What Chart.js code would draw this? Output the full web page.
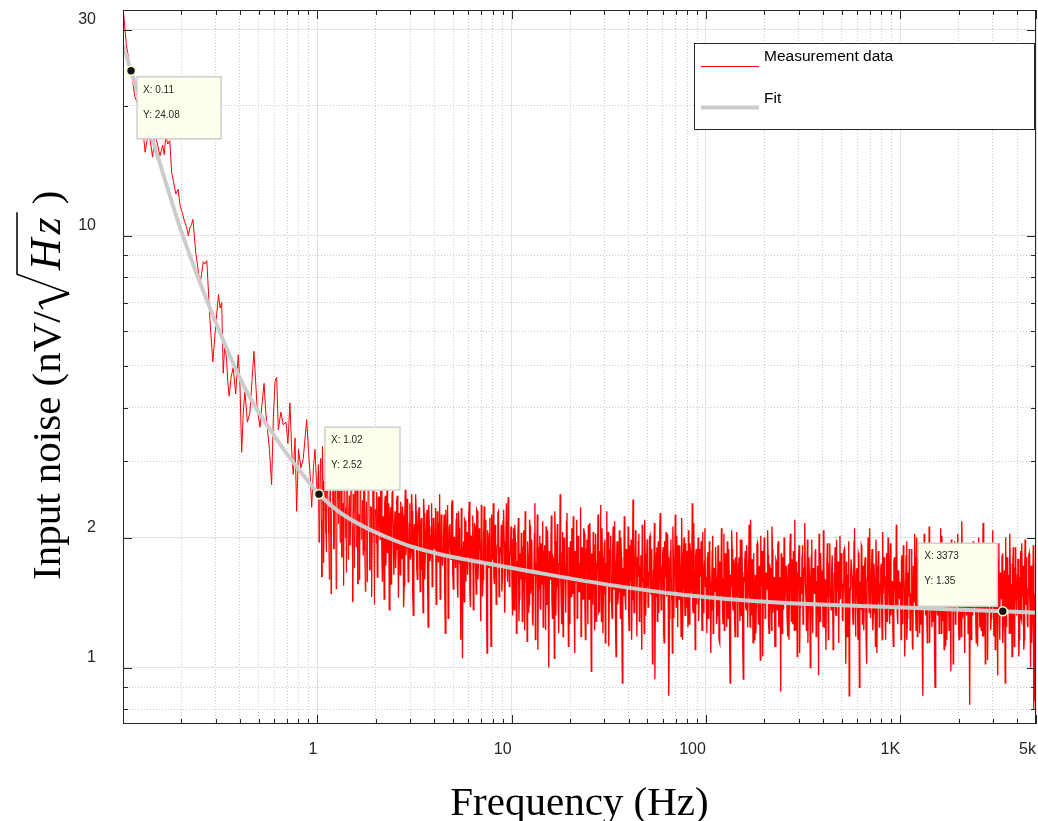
<!DOCTYPE html>
<html><head><meta charset="utf-8">
<script src="https://cdn.jsdelivr.net/npm/chart.js@4.4.1/dist/chart.umd.min.js"></script>
<style>html,body{margin:0;padding:0;background:#fff;}#wrap{width:1038px;height:821px;position:relative}</style>
</head><body><div id="wrap"><canvas id="c" width="1038" height="821"></canvas></div>
<script>
// ---------------- data ----------------
// low-frequency part of the measurement: [frequency Hz, noise nV/sqrt(Hz)]
const lowBand = [[0.100,34],[0.104,27.7],[0.108,25.0],[0.111,23.6],[0.115,21.0],[0.119,20.2],[0.123,18.6],[0.127,17.4],[0.130,15.6],[0.134,17.0],
[0.138,16.6],[0.142,15.2],[0.146,17.1],[0.150,16.4],[0.155,15.3],[0.160,16.2],[0.163,15.4],[0.166,17.0],[0.170,16.3],[0.174,16.6],
[0.178,14.0],[0.182,13.3],[0.187,12.5],[0.192,12.8],[0.197,11.7],[0.202,11.3],[0.207,10.8],[0.212,10.5],[0.217,10.0],[0.221,10.45],
[0.225,10.6],[0.229,10.9],[0.237,9.1],[0.244,8.3],[0.249,7.7],[0.254,8.2],[0.259,8.7],[0.264,8.6],[0.270,8.75],[0.280,6.4],
[0.290,5.1],[0.300,6.2],[0.310,7.3],[0.316,6.8],[0.322,7.0],[0.328,4.8],[0.334,5.6],[0.341,5.2],[0.346,4.6],[0.352,4.25],
[0.360,4.7],[0.369,4.95],[0.380,4.3],[0.392,5.3],[0.400,4.5],[0.408,3.15],[0.416,3.9],[0.424,4.35],[0.437,3.7],[0.450,3.9],
[0.461,4.6],[0.472,5.4],[0.490,4.0],[0.507,3.6],[0.520,4.1],[0.532,4.55],[0.543,3.9],[0.553,3.6],[0.567,3.2],[0.582,2.65],
[0.594,3.8],[0.606,4.6],[0.618,4.7],[0.630,3.55],[0.649,3.9],[0.668,3.65],[0.690,3.7],[0.706,3.3],[0.723,4.1],[0.738,3.2],
[0.752,2.8],[0.768,3.4],[0.783,2.3],[0.800,3.2],[0.824,2.9],[0.847,3.05],[0.865,3.4],[0.882,3.75],[0.900,3.2],[0.918,2.8],
[0.936,2.35],[0.955,2.9],[0.973,3.2],[0.990,2.7]];

// dense part: two interleaved value lists per band on an even log-frequency sampling grid
const bandEdges = [[1,10],[10,100],[100,1000],[1000,5000]];
const noise1to10 = [2.52,2.95,2.10,3.05,1.62,2.70,2.31,3.20,1.85,2.60,
2.05,2.88,1.48,2.40,3.10,2.15,2.72,1.70,2.45,2.98,
1.95,2.62,2.20,1.55,2.85,2.35,3.15,1.78,2.50,2.10,
2.78,1.42,2.30,2.66,1.90,2.92,2.08,1.60,2.55,2.25,
1.82,2.70,1.50,2.42,2.05,2.80,1.68,2.35,1.95,2.62,
1.40,2.28,2.55,1.75,2.48,1.98,2.68,1.58,2.20,2.40,
1.72,2.58,1.92,1.36,2.35,2.10,2.62,1.64,2.30,1.88,
2.50,1.45,2.18,2.42,1.78,2.25,1.55,2.58,1.96,2.12,
1.62,2.40,1.85,2.30,1.32,2.15,2.52,1.70,2.05,2.35,
1.50,2.22,1.90,2.46,1.60,2.02,2.32,1.24,2.12,1.80,
2.40,1.66,2.18,1.95,1.40,2.30,1.75,2.52,1.58,2.08,
1.86,2.26,1.20,1.98,2.38,1.62,2.15,1.78,2.44,1.52,
2.00,1.70,2.28,1.45,2.10,1.88,2.34,1.05,1.96,2.20,
1.58,2.06,1.82,2.42,1.38,1.92,2.25,1.66,2.12,1.48,
2.30,1.74,1.98,1.28,2.18,1.60,2.36,1.84,1.52,2.08,
1.70,2.22,1.12,1.94,2.40,1.56,2.02,1.80,2.28,1.46,
1.90,2.14,1.62,2.32,1.34,2.06,1.76,2.48,1.54,1.86];
const noise1to10B = [2.70,1.95,2.85,2.20,3.25,1.75,2.50,2.05,2.95,2.35,
1.60,2.78,2.25,2.92,1.88,2.55,1.52,3.00,2.15,2.45,
2.68,1.80,2.40,2.90,2.00,1.66,2.58,2.30,1.92,2.75,
2.12,2.52,1.70,2.38,2.82,1.56,2.26,2.64,1.98,2.44,
2.60,1.86,2.22,1.58,2.66,2.08,2.36,1.46,2.56,2.02,
2.32,1.94,1.62,2.48,2.14,2.70,1.80,2.24,1.44,2.50,
2.06,1.84,2.40,2.18,1.56,2.54,1.90,2.12,1.70,2.44,
1.96,2.28,1.64,2.10,2.36,1.38,2.20,1.82,2.46,1.58,
2.16,1.78,2.52,1.48,2.04,1.92,2.30,1.60,2.24,1.86,
2.10,1.68,1.34,2.28,1.84,2.14,1.56,2.38,1.76,2.02,
1.54,2.22,1.88,2.34,1.62,1.94,2.16,1.44,2.26,1.72,
2.06,1.50,2.32,1.80,1.30,2.12,1.92,2.36,1.66,2.00,
1.84,2.20,1.56,2.30,1.74,1.16,2.08,1.90,1.42,2.18,
1.98,1.64,2.24,1.50,2.02,1.80,1.36,2.16,1.70,2.32,
1.60,2.10,1.86,2.38,1.46,1.96,1.74,2.20,1.08,1.88,
2.04,1.52,2.26,1.78,1.62,2.14,1.40,1.92,2.30,1.68,
1.84,1.50,2.18,1.96,1.72,2.40,1.58,2.00,1.80,2.12];
const noise10to100 = [1.85,1.32,2.10,1.58,1.95,1.20,1.76,2.22,1.44,1.68,
2.05,1.28,1.90,1.52,2.30,1.62,1.15,1.82,1.40,2.12,
1.55,1.98,1.25,1.72,2.40,1.48,1.88,1.10,1.66,2.02,
1.36,1.80,2.18,1.50,1.92,1.22,1.70,2.08,1.42,1.86,
1.60,2.25,1.30,1.78,1.05,1.96,1.54,2.15,1.38,1.74,
2.52,1.46,1.84,1.18,2.00,1.64,1.34,2.28,1.56,1.90,
1.26,1.72,2.10,1.48,1.94,1.08,1.68,2.20,1.40,1.80,
1.58,2.35,1.24,1.76,1.52,2.04,1.16,1.88,1.62,2.14,
1.44,1.82,0.98,1.70,2.06,1.50,1.92,1.28,1.74,2.26,
1.35,1.86,1.60,2.10,1.20,1.66,1.98,1.46,2.30,1.54,
1.12,1.78,2.02,1.38,1.84,1.58,2.18,1.26,1.72,1.95,
1.50,2.08,1.30,1.80,0.92,1.64,2.24,1.42,1.88,1.56,
2.12,1.22,1.76,1.98,1.44,2.45,1.34,1.70,1.90,1.18,
1.62,2.04,1.48,1.82,1.10,1.94,1.56,2.20,1.32,1.74,
1.88,1.40,2.00,1.52,1.78,1.02,1.68,2.16,1.46,1.84,
1.28,1.96,1.60,2.28,1.36,1.72,1.90,1.14,1.66,2.06,
1.50,1.80,0.86,1.64,1.98,1.42,2.12,1.30,1.76,1.54,
2.02,1.24,1.70,1.92,1.46,2.22,1.16,1.82,1.58,1.94,
1.38,1.74,2.08,1.26,1.86,1.52,2.40,1.34,1.68,1.10,
1.88,1.56,2.00,1.44,1.72,1.96,1.22,1.78,1.60,2.10];
const noise10to100B = [1.52,1.98,1.36,2.14,1.70,1.46,2.02,1.28,1.84,1.60,
1.76,1.42,2.08,1.22,1.88,1.56,1.96,1.34,2.20,1.48,
1.82,1.30,1.64,2.04,1.16,1.74,2.26,1.52,1.90,1.38,
1.94,1.56,1.24,1.86,1.62,2.12,1.40,1.78,1.00,1.68,
2.00,1.44,1.80,1.58,2.30,1.32,1.72,1.92,1.20,1.84,
1.62,1.26,2.06,1.54,1.76,1.38,2.18,1.64,1.12,1.80,
1.96,1.46,1.70,2.24,1.34,1.86,1.58,1.30,2.02,1.50,
1.74,1.18,1.90,1.44,2.10,1.36,1.66,1.98,1.26,1.78,
2.16,1.52,1.84,1.40,1.62,1.22,2.04,1.56,1.90,1.34,
1.70,2.38,1.28,1.80,1.48,1.94,1.14,1.74,1.58,2.06,
1.42,1.88,1.64,1.30,2.12,1.52,1.76,1.06,1.96,1.40,
1.82,1.60,2.00,1.24,1.70,1.46,2.20,1.36,1.78,1.54,
1.32,1.92,1.58,1.16,1.86,1.68,1.44,2.08,1.50,1.80,
1.96,1.28,1.72,1.42,2.14,1.60,1.20,1.84,1.54,1.98,
1.38,1.66,2.02,1.48,1.88,1.26,1.76,0.94,1.62,1.90,
1.74,1.34,2.10,1.56,1.40,1.82,1.22,1.96,1.64,1.46,
2.04,1.58,1.30,1.86,1.50,1.08,1.78,1.68,2.26,1.38,
1.60,1.92,1.44,1.72,1.18,1.84,1.52,2.00,1.32,1.66,
1.86,1.24,1.58,1.94,1.46,1.74,1.36,2.16,1.56,1.82,
1.40,1.70,1.28,1.88,1.62,1.48,2.06,1.34,1.76,1.54];
const noise100to1k = [1.62,1.20,1.85,1.44,1.72,1.08,1.58,2.02,1.34,1.66,
1.90,1.26,1.52,1.78,1.14,1.68,2.10,1.40,1.60,1.22,
1.84,1.48,1.96,1.30,1.64,0.92,1.54,1.88,1.36,1.74,
1.18,1.70,2.06,1.42,1.80,1.28,1.56,1.98,1.10,1.62,
1.76,1.38,1.92,1.24,1.68,1.50,2.20,1.32,1.58,1.84,
1.16,1.64,1.46,1.94,1.26,1.72,1.04,1.60,1.86,1.40,
2.00,1.30,1.66,1.52,1.82,1.20,1.70,1.44,2.12,1.34,
1.58,1.12,1.78,1.48,1.90,1.24,1.62,0.88,1.54,1.80,
1.36,1.96,1.42,1.68,1.18,1.74,1.50,2.04,1.28,1.60,
1.86,1.22,1.56,1.76,1.06,1.66,1.92,1.38,1.52,1.82,
1.26,1.70,2.16,1.44,1.62,1.14,1.80,1.34,1.58,1.98,
1.20,1.64,1.48,1.88,1.30,1.72,0.96,1.56,1.84,1.40,
1.68,2.08,1.24,1.60,1.46,1.94,1.16,1.74,1.52,1.36,
1.82,1.10,1.66,1.90,1.32,1.58,1.76,1.20,2.02,1.44,
1.62,1.28,1.86,1.50,1.02,1.70,1.40,1.96,1.24,1.64,
1.78,1.36,1.54,2.10,1.18,1.68,1.46,1.84,0.90,1.58,
1.92,1.26,1.72,1.42,1.80,1.14,1.60,2.00,1.34,1.66,
1.50,1.88,1.22,1.74,1.56,1.98,1.08,1.62,1.82,1.38,
1.70,1.30,2.06,1.48,1.64,1.16,1.84,1.44,1.76,1.26,
1.94,1.40,1.58,1.12,1.80,1.52,2.14,1.32,1.68,1.46];
const noise100to1kB = [1.44,1.80,1.30,1.96,1.56,1.36,1.86,1.20,1.70,1.50,
1.62,1.32,1.92,1.16,1.76,1.46,1.84,1.26,2.04,1.40,
1.70,1.24,1.54,1.88,1.10,1.64,2.08,1.42,1.78,1.30,
1.80,1.46,1.18,1.74,1.52,1.98,1.32,1.66,0.94,1.58,
1.86,1.36,1.68,1.48,2.14,1.24,1.62,1.78,1.14,1.72,
1.50,1.20,1.92,1.44,1.64,1.30,2.02,1.54,1.06,1.68,
1.82,1.38,1.58,2.08,1.26,1.74,1.48,1.22,1.88,1.42,
1.62,1.12,1.76,1.36,1.96,1.28,1.56,1.84,1.20,1.66,
2.00,1.42,1.72,1.32,1.52,1.16,1.90,1.46,1.78,1.26,
1.58,2.20,1.22,1.68,1.40,1.80,1.08,1.62,1.48,1.92,
1.34,1.76,1.54,1.22,1.98,1.42,1.64,1.00,1.82,1.32,
1.70,1.50,1.86,1.18,1.58,1.38,2.04,1.28,1.66,1.44,
1.24,1.78,1.48,1.10,1.74,1.56,1.36,1.94,1.40,1.68,
1.82,1.20,1.60,1.34,1.98,1.50,1.14,1.72,1.44,1.84,
1.30,1.56,1.88,1.38,1.76,1.18,1.64,0.86,1.52,1.78,
1.62,1.26,1.96,1.46,1.32,1.70,1.16,1.82,1.54,1.36,
1.90,1.48,1.22,1.74,1.40,1.02,1.66,1.56,2.10,1.30,
1.50,1.80,1.34,1.60,1.12,1.72,1.42,1.86,1.24,1.56,
1.74,1.16,1.48,1.80,1.36,1.62,1.28,2.00,1.46,1.70,
1.32,1.58,1.20,1.76,1.52,1.38,1.92,1.26,1.64,1.44];
const noise1kto5k = [1.58,1.16,1.82,1.40,1.70,1.06,1.54,1.96,1.30,1.64,
1.88,1.22,1.48,1.76,1.10,1.62,2.04,1.36,1.56,1.18,
1.80,1.44,1.92,1.26,1.60,0.86,1.50,1.84,1.32,1.72,
1.14,1.66,2.12,1.38,1.78,1.24,1.52,1.94,1.08,1.60,
1.74,1.34,1.88,1.20,1.64,1.46,2.02,1.28,1.54,1.80,
1.12,1.60,1.42,1.90,1.22,1.68,0.98,1.56,1.84,1.36,
1.96,1.26,1.62,1.48,1.78,1.16,1.66,1.40,2.18,1.30,
1.54,1.08,1.74,1.44,1.86,1.20,1.58,0.82,1.50,1.76,
1.32,1.92,1.38,1.64,1.14,1.70,1.46,2.00,1.24,1.56,
1.82,1.18,1.52,1.72,1.02,1.62,1.88,1.34,1.48,1.78,
1.22,1.66,2.08,1.40,1.58,1.10,1.76,1.30,1.54,1.94,
1.16,1.60,1.44,1.84,1.26,1.68,0.92,1.52,1.80,1.36,
1.64,2.04,1.20,1.56,1.42,1.90,1.12,1.70,1.48,1.32,
1.78,1.06,1.62,1.86,1.28,1.54,1.72,1.16,1.98,1.40,
1.58,1.24,1.82,1.46,1.00,1.66,1.36,1.92,1.20,0.84];
const noise1kto5kB = [1.40,1.76,1.26,1.92,1.52,1.32,1.82,1.16,1.66,1.46,
1.58,1.28,1.88,1.12,1.72,1.42,1.80,1.22,2.00,1.36,
1.66,1.20,1.50,1.84,1.06,1.60,2.04,1.38,1.74,1.26,
1.76,1.42,1.14,1.70,1.48,1.94,1.28,1.62,0.90,1.54,
1.82,1.32,1.64,1.44,2.10,1.20,1.58,1.74,1.10,1.68,
1.46,1.16,1.88,1.40,1.60,1.26,1.98,1.50,1.02,1.64,
1.78,1.34,1.54,2.04,1.22,1.70,1.44,1.18,1.84,1.38,
1.58,1.08,1.72,1.32,1.92,1.24,1.52,1.80,1.16,1.62,
1.96,1.38,1.68,1.28,1.48,1.12,1.86,1.42,1.74,1.22,
1.54,2.16,1.18,1.64,1.36,1.76,1.04,1.58,1.44,1.88,
1.30,1.72,1.50,1.18,1.94,1.38,1.60,0.96,1.78,1.28,
1.66,1.46,1.82,1.14,1.54,1.34,2.00,1.24,1.62,1.40,
1.20,1.74,1.44,1.06,1.70,1.52,1.32,1.90,1.36,1.64,
1.78,1.16,1.56,1.30,1.94,1.46,1.10,1.68,1.40,1.80,
1.26,1.52,1.84,1.34,1.72,1.14,1.60,0.80,1.48,1.74];
const denseBands = [[noise1to10, noise1to10B], [noise10to100, noise10to100B], [noise100to1k, noise100to1kB], [noise1kto5k, noise1kto5kB]];

// fit curve
const fitFreq  = [0.1, 0.11, 0.13, 0.15, 0.2, 0.3, 0.43, 0.64, 0.8, 1.02, 1.3, 1.7, 2.3, 3, 4.5, 6.6, 12, 30, 80, 200, 900, 3373, 5000];
const fitValue = [27.6, 24.08, 18.9, 15.4, 10.2, 6.3, 4.38, 3.3, 2.88, 2.52, 2.29, 2.13, 2.0, 1.91, 1.82, 1.76, 1.675, 1.56, 1.47, 1.42, 1.38, 1.35, 1.34];

// data tips
const tipFreq  = [0.11, 1.02, 3373];
const tipValue = [24.08, 2.52, 1.35];

// axes
const xTickValues = [1, 10, 100, 1000, 5000];
const xTickLabels = ['1', '10', '100', '1K', '5k'];
const xMinorValues = [0.2,0.3,0.4,0.5,0.6,0.7,0.8,0.9,2,3,4,5,6,7,8,9,20,30,40,50,60,70,80,90,200,300,400,500,600,700,800,900,2000,3000,4000];
const yTickValues = [1, 2, 10, 30];
const yTickLabels = ['1', '2', '10', '30'];
const yMinorValues = [0.8,0.9,3,4,5,6,7,8,9,20];
const seriesNames = ['Measurement data', 'Fit'];
const xTitle = 'Frequency (Hz)';
const yTitleParts = ['Input noise (nV/', 'H', 'z', ')'];

// ---------------- build datasets ----------------
const measPoints = lowBand.map(p => ({x: p[0], y: p[1]}));
denseBands.forEach((pair, b) => {
  const f0 = bandEdges[b][0], f1 = bandEdges[b][1];
  const n = pair[0].length * 2;
  pair[0].forEach((v, i) => {
    measPoints.push({x: f0 * Math.pow(f1 / f0, (2 * i) / n), y: v});
    measPoints.push({x: f0 * Math.pow(f1 / f0, (2 * i + 1) / n), y: pair[1][i]});
  });
});
const fitPoints = fitFreq.map((f, i) => ({x: f, y: fitValue[i]}));
const tipPoints = tipFreq.map((f, i) => ({x: f, y: tipValue[i]}));

const isMajorX = v => xTickValues.includes(v);
const isMajorY = v => yTickValues.includes(v);
const AX = '#262626';
const SANS = '"Liberation Sans", Arial, Helvetica, sans-serif';
const SERIF = '"Liberation Serif", "Times New Roman", serif';

// tip box geometry relative to the tip point (px)
const tipBoxes = [
  {dx: 6, dy: 6, w: 84, h: 62},
  {dx: 6, dy: -67, w: 75, h: 63},
  {dx: -84.5, dy: -68, w: 79, h: 63}
];

const zeroPad = s => { s.paddingTop = 0; s.paddingBottom = 0; s.paddingLeft = 0; s.paddingRight = 0; };

const decor = {
  id: 'decor',
  afterDatasetsDraw(chart) {
    const ctx = chart.ctx, a = chart.chartArea;
    const xs = chart.scales.x, ys = chart.scales.y;
    ctx.save();
    // axes box
    ctx.strokeStyle = AX; ctx.lineWidth = 1;
    ctx.strokeRect(Math.round(a.left) + 0.5, Math.round(a.top) + 0.5, Math.round(a.right) - Math.round(a.left) - 1, Math.round(a.bottom) - Math.round(a.top) - 1);
    // inward ticks
    ctx.beginPath();
    xTickValues.concat(xMinorValues).forEach(v => {
      const px = Math.round(xs.getPixelForValue(v)) + 0.5;
      const len = isMajorX(v) ? 9 : 5;
      ctx.moveTo(px, a.bottom); ctx.lineTo(px, a.bottom - len);
      ctx.moveTo(px, a.top); ctx.lineTo(px, a.top + len);
    });
    yTickValues.concat(yMinorValues).forEach(v => {
      const py = Math.round(ys.getPixelForValue(v)) + 0.5;
      const len = isMajorY(v) ? 9 : 5;
      ctx.moveTo(a.left, py); ctx.lineTo(a.left + len, py);
      ctx.moveTo(a.right, py); ctx.lineTo(a.right - len, py);
    });
    ctx.stroke();

    // data tip boxes
    const meta = chart.getDatasetMeta(2);
    meta.data.forEach((pt, i) => {
      const g = tipBoxes[i];
      const bx = pt.x + g.dx, by = pt.y + g.dy;
      ctx.fillStyle = 'rgb(255,255,238)';
      ctx.fillRect(bx, by, g.w, g.h);
      ctx.strokeStyle = '#cfcfcf'; ctx.lineWidth = 1.5;
      ctx.strokeRect(bx, by, g.w, g.h);
      ctx.fillStyle = '#262626';
      ctx.font = '10px ' + SANS;
      ctx.textBaseline = 'middle'; ctx.textAlign = 'left';
      ctx.fillText('X: ' + tipFreq[i], bx + 6, by + 13);
      ctx.fillText('Y: ' + tipValue[i], bx + 6, by + 38);
    });

    // legend
    const lx = 694.5, ly = 43.5, lw = 340, lh = 86;
    ctx.fillStyle = '#fff'; ctx.fillRect(lx, ly, lw, lh);
    ctx.strokeStyle = AX; ctx.lineWidth = 1; ctx.strokeRect(lx, ly, lw, lh);
    ctx.strokeStyle = '#ff0000'; ctx.lineWidth = 1;
    ctx.beginPath(); ctx.moveTo(701, 66.5); ctx.lineTo(759, 66.5); ctx.stroke();
    ctx.strokeStyle = '#cccccc'; ctx.lineWidth = 4;
    ctx.beginPath(); ctx.moveTo(701, 107.5); ctx.lineTo(759, 107.5); ctx.stroke();
    ctx.fillStyle = '#000'; ctx.font = '15.5px ' + SANS;
    ctx.textBaseline = 'middle'; ctx.textAlign = 'left';
    ctx.fillText(seriesNames[0], 764, 57);
    ctx.fillText(seriesNames[1], 764, 98.5);
    ctx.restore();
  },
  afterDraw(chart) {
    const ctx = chart.ctx, a = chart.chartArea;
    ctx.save();
    ctx.fillStyle = '#000';
    // x title
    ctx.font = '41px ' + SERIF;
    ctx.textAlign = 'center'; ctx.textBaseline = 'alphabetic';
    ctx.fillText(xTitle, (a.left + a.right) / 2, 815);
    // y title (rotated)
    ctx.translate(60, 580);
    ctx.rotate(-Math.PI / 2);
    ctx.textAlign = 'left';
    ctx.font = '41px ' + SERIF;
    ctx.fillText(yTitleParts[0], 0, 0);
    const rx = ctx.measureText(yTitleParts[0]).width + 1;
    ctx.font = 'italic 44px ' + SERIF;
    const hx = rx + 40;
    ctx.fillText(yTitleParts[1], hx, 0);
    const zx = hx + ctx.measureText(yTitleParts[1]).width + 4;
    ctx.fillText(yTitleParts[2], zx, 0);
    const endHz = zx + ctx.measureText(yTitleParts[2]).width + 5;
    // radical sign with overline
    ctx.strokeStyle = '#000'; ctx.lineJoin = 'miter';
    ctx.lineWidth = 1.5;
    ctx.beginPath(); ctx.moveTo(rx + 1, -17); ctx.lineTo(rx + 7, -21); ctx.stroke();
    ctx.lineWidth = 3;
    ctx.beginPath(); ctx.moveTo(rx + 7, -21); ctx.lineTo(rx + 17, 9); ctx.stroke();
    ctx.lineWidth = 1.5;
    ctx.beginPath(); ctx.moveTo(rx + 17, 9); ctx.lineTo(rx + 36, -43); ctx.lineTo(endHz, -43); ctx.stroke();
    ctx.font = '41px ' + SERIF;
    ctx.fillText(yTitleParts[3], endHz + 8, 0);
    ctx.restore();
  }
};

new Chart(document.getElementById('c'), {
  type: 'line',
  data: {
    datasets: [
      {label: seriesNames[1], data: fitPoints, borderColor: '#cccccc', borderWidth: 4, pointRadius: 0, cubicInterpolationMode: 'monotone', order: 1},
      {label: seriesNames[0], data: measPoints, borderColor: '#ff0000', borderWidth: 1, pointRadius: 0, tension: 0, order: 2,
        segment: {borderWidth: c => (c.p0.parsed.x >= 2 ? 1.35 : 1)}},
      {label: 'tips', data: tipPoints, showLine: false, pointRadius: 4.5, pointBackgroundColor: '#111', pointBorderColor: '#ffffcc', pointBorderWidth: 1.6, order: 0}
    ]
  },
  options: {
    responsive: false, animation: false, devicePixelRatio: 1,
    layout: {padding: {left: 0, right: 2, top: 10, bottom: 0}, autoPadding: false},
    plugins: {legend: {display: false}, tooltip: {enabled: false}},
    events: [],
    scales: {
      x: {
        type: 'logarithmic', min: 0.1, max: 5000, bounds: 'data',
        afterBuildTicks: s => { s.ticks = xTickValues.concat(xMinorValues).sort((p, q) => p - q).map(v => ({value: v})); },
        afterFit: s => { s.height = 97; zeroPad(s); },
        grid: {drawTicks: false, color: c => (c.tick && isMajorX(c.tick.value)) ? '#e3e3e3' : '#c9c9c9', lineWidth: 1},
        border: {display: false, dash: c => (c.tick && isMajorX(c.tick.value)) ? [] : [1, 2]},
        ticks: {autoSkip: false, maxRotation: 0, minRotation: 0, align: 'end', padding: 16, color: AX,
          font: {family: SANS, size: 16},
          callback: v => { const i = xTickValues.indexOf(v); return i >= 0 ? xTickLabels[i] : ''; }}
      },
      y: {
        type: 'logarithmic', min: 0.74, max: 33.3, bounds: 'data',
        afterBuildTicks: s => { s.ticks = yTickValues.concat(yMinorValues).sort((p, q) => p - q).map(v => ({value: v})); },
        afterFit: s => { s.width = 123; zeroPad(s); },
        grid: {drawTicks: false, color: c => (c.tick && isMajorY(c.tick.value)) ? '#e3e3e3' : '#c9c9c9', lineWidth: 1},
        border: {display: false, dash: c => (c.tick && isMajorY(c.tick.value)) ? [] : [1, 2]},
        ticks: {autoSkip: false, padding: 27, labelOffset: -10, color: AX,
          font: {family: SANS, size: 16},
          callback: v => { const i = yTickValues.indexOf(v); return i >= 0 ? yTickLabels[i] : ''; }}
      }
    }
  },
  plugins: [decor]
});
</script></body></html>
